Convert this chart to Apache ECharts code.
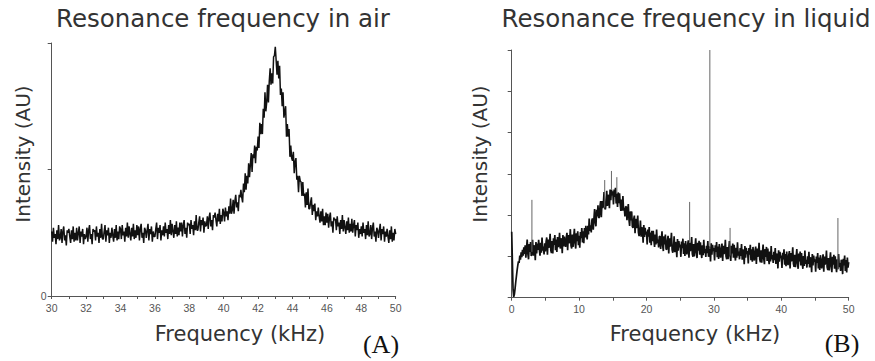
<!DOCTYPE html>
<html>
<head>
<meta charset="utf-8">
<script src="https://cdn.jsdelivr.net/npm/echarts@6/dist/echarts.min.js"></script>
<style>
  html, body { margin: 0; padding: 0; background: #fff; }
  #chart { width: 875px; height: 361px; }
</style>
</head>
<body>
<div id="chart"></div>
<script>
// Panel A: cantilever spectrum in air, 30–50 kHz sampled every 0.05 kHz (one row per kHz)
const airStart = 30, airStep = 0.05;
const airIntensity = [
  0.51,0.43,0.54,0.46,0.49,0.41,0.52,0.45,0.56,0.44, 0.46,0.53,0.42,0.51,0.55,0.44,0.48,0.40,0.52,0.50,
  0.53,0.47,0.42,0.52,0.45,0.55,0.43,0.50,0.44,0.54, 0.44,0.50,0.55,0.42,0.51,0.47,0.53,0.41,0.49,0.45,
  0.47,0.54,0.43,0.52,0.56,0.45,0.49,0.41,0.53,0.51, 0.52,0.44,0.55,0.47,0.50,0.42,0.53,0.46,0.57,0.45,
  0.45,0.51,0.56,0.43,0.52,0.48,0.54,0.42,0.50,0.46, 0.54,0.48,0.43,0.53,0.46,0.56,0.44,0.51,0.45,0.55,
  0.53,0.45,0.56,0.48,0.51,0.43,0.54,0.47,0.58,0.46, 0.55,0.49,0.44,0.54,0.47,0.57,0.45,0.52,0.46,0.56,
  0.48,0.55,0.44,0.53,0.57,0.46,0.50,0.42,0.54,0.52, 0.46,0.52,0.57,0.44,0.53,0.49,0.55,0.43,0.51,0.47,
  0.47,0.53,0.58,0.45,0.54,0.50,0.56,0.44,0.52,0.48, 0.55,0.47,0.58,0.50,0.53,0.45,0.56,0.49,0.60,0.48,
  0.57,0.51,0.46,0.56,0.49,0.59,0.47,0.54,0.48,0.58, 0.51,0.58,0.47,0.56,0.60,0.49,0.54,0.46,0.58,0.56,
  0.57,0.49,0.60,0.53,0.56,0.48,0.59,0.52,0.64,0.52, 0.52,0.58,0.63,0.51,0.60,0.56,0.62,0.50,0.59,0.55,
  0.56,0.63,0.53,0.62,0.66,0.55,0.60,0.52,0.64,0.62, 0.66,0.60,0.55,0.65,0.59,0.69,0.57,0.64,0.59,0.69,
  0.66,0.59,0.70,0.63,0.67,0.60,0.71,0.65,0.77,0.65, 0.68,0.76,0.65,0.75,0.80,0.70,0.74,0.67,0.80,0.78,
  0.84,0.78,0.74,0.89,0.82,0.97,0.84,0.95,0.89,1.05, 0.94,1.04,1.13,0.98,1.12,1.09,1.19,1.05,1.18,1.15,
  1.26,1.17,1.37,1.28,1.36,1.28,1.48,1.41,1.61,1.46, 1.53,1.67,1.53,1.70,1.80,1.67,1.76,1.68,1.89,1.90,
  1.97,1.86,1.75,1.86,1.72,1.82,1.59,1.64,1.50,1.61, 1.41,1.46,1.50,1.26,1.36,1.26,1.32,1.10,1.19,1.09,
  1.07,1.14,0.97,1.06,1.09,0.92,0.95,0.82,0.95,0.91, 0.90,0.79,0.90,0.79,0.81,0.70,0.82,0.72,0.85,0.69,
  0.69,0.74,0.78,0.64,0.72,0.67,0.73,0.60,0.67,0.63, 0.70,0.63,0.58,0.67,0.59,0.69,0.56,0.63,0.56,0.66,
  0.58,0.65,0.54,0.62,0.66,0.55,0.59,0.50,0.62,0.60, 0.61,0.52,0.63,0.55,0.58,0.49,0.60,0.53,0.64,0.51,
  0.60,0.54,0.49,0.59,0.52,0.62,0.50,0.57,0.51,0.61, 0.50,0.56,0.60,0.47,0.56,0.52,0.58,0.46,0.53,0.49,
  0.55,0.47,0.58,0.50,0.53,0.45,0.56,0.48,0.59,0.47, 0.49,0.56,0.45,0.54,0.58,0.47,0.51,0.43,0.54,0.52,
  0.46,0.52,0.57,0.44,0.53,0.49,0.55,0.43,0.51,0.47, 0.53,0.47,0.42,0.52,0.45,0.55,0.43,0.50,0.44,0.53,
  0.49
];

// Panel B: spectrum in liquid, 0–50 kHz sampled every 0.1 kHz (one row per kHz)
const liquidStart = 0, liquidStep = 0.1;
const liquidIntensity = [
  1.60,0.90,0.20,0.02,0.08,0.22,0.38,0.52,0.66,0.78,
  0.88,0.84,1.02,0.92,1.10,0.98,1.16,1.02,1.22,1.06,
  1.27,0.97,1.20,1.41,1.06,0.93,1.30,1.11,1.35,1.01,
  1.11,1.40,1.02,1.27,1.21,0.91,1.35,1.07,1.31,1.16,
  1.40,1.17,1.02,1.33,1.09,1.46,1.14,1.24,1.05,1.32,
  1.12,1.35,1.46,1.04,1.41,1.21,1.28,1.55,1.15,1.08,
  1.37,1.07,1.44,1.28,1.52,1.15,1.41,1.11,1.47,1.23,
  1.28,1.57,1.19,1.44,1.38,1.08,1.52,1.24,1.48,1.33,
  1.23,1.46,1.57,1.15,1.52,1.32,1.39,1.66,1.26,1.19,
  1.53,1.23,1.46,1.67,1.32,1.19,1.56,1.37,1.61,1.27,
  1.50,1.21,1.59,1.44,1.69,1.34,1.61,1.32,1.69,1.46,
  1.74,1.53,1.41,1.74,1.53,1.92,1.62,1.75,1.58,1.88,
  1.92,1.65,1.91,2.15,1.83,1.73,2.13,1.97,2.24,1.93,
  1.95,2.21,2.34,1.95,2.34,2.17,2.26,2.56,2.18,2.14,
  2.28,2.59,2.22,2.49,2.45,2.17,2.62,2.36,2.62,2.48,
  2.58,2.26,2.62,2.44,2.66,2.28,2.52,2.20,2.55,2.29,
  2.53,2.27,2.10,2.38,2.11,2.46,2.11,2.18,1.97,2.21,
  2.20,1.88,2.08,2.27,1.89,1.74,2.09,1.87,2.09,1.72,
  1.69,1.90,1.99,1.56,1.91,1.69,1.74,1.99,1.58,1.49,
  1.59,1.87,1.48,1.71,1.64,1.33,1.76,1.47,1.69,1.53,
  1.60,1.29,1.65,1.48,1.71,1.33,1.58,1.27,1.62,1.37,
  1.62,1.38,1.23,1.53,1.29,1.65,1.32,1.41,1.22,1.48,
  1.49,1.18,1.41,1.61,1.26,1.13,1.49,1.29,1.53,1.18,
  1.16,1.39,1.50,1.07,1.44,1.24,1.30,1.57,1.16,1.09,
  1.20,1.49,1.10,1.35,1.29,0.98,1.42,1.14,1.37,1.22,
  1.29,0.99,1.36,1.20,1.43,1.06,1.32,1.01,1.37,1.13,
  1.05,1.28,1.39,0.97,1.33,1.13,1.20,1.47,1.06,0.99,
  1.30,1.00,1.23,1.44,1.09,0.96,1.33,1.14,1.38,1.04,
  1.34,1.11,0.96,1.27,1.03,1.40,1.08,1.18,0.99,1.26,
  1.08,1.37,0.99,1.24,1.18,0.88,1.32,1.04,1.28,1.13,
  1.20,0.90,1.27,1.11,1.35,0.98,1.24,0.94,1.30,1.06,
  0.97,1.20,1.31,0.89,1.26,1.06,1.13,1.40,1.00,0.93,
  1.23,0.93,1.16,1.37,1.02,0.89,1.26,1.07,1.31,0.97,
  1.28,1.05,0.90,1.21,0.97,1.34,1.02,1.12,0.93,1.20,
  1.01,1.30,0.92,1.17,1.11,0.81,1.25,0.97,1.21,1.06,
  1.13,0.83,1.20,1.04,1.28,0.91,1.17,0.87,1.23,0.99,
  0.90,1.13,1.24,0.82,1.19,0.99,1.06,1.33,0.93,0.86,
  1.15,0.85,1.08,1.29,0.94,0.81,1.18,0.99,1.23,0.89,
  1.19,0.96,0.81,1.12,0.88,1.25,0.93,1.03,0.84,1.11,
  0.91,1.20,0.82,1.07,1.01,0.71,1.15,0.87,1.11,0.96,
  1.02,0.72,1.09,0.93,1.17,0.80,1.06,0.76,1.12,0.88,
  0.79,1.02,1.13,0.71,1.08,0.88,0.95,1.22,0.82,0.75,
  1.04,0.74,0.97,1.18,0.83,0.70,1.07,0.88,1.12,0.78,
  1.08,0.85,0.70,1.01,0.77,1.14,0.82,0.92,0.73,1.00,
  0.82,1.11,0.73,0.98,0.92,0.62,1.06,0.78,1.02,0.87,
  0.93,0.63,1.00,0.84,1.08,0.71,0.97,0.67,1.03,0.79,
  0.71,0.94,1.05,0.63,1.00,0.80,0.87,1.14,0.74,0.67,
  0.96,0.66,0.89,1.10,0.75,0.62,0.99,0.80,1.04,0.70,
  1.00,0.77,0.62,0.93,0.69,1.06,0.74,0.84,0.65,0.92,
  0.87,0.57,0.94,0.78,1.02,0.65,0.91,0.61,0.97,0.73,
  0.86
];

// Isolated narrow peaks in the liquid spectrum
const spikeFreq = [3.0, 13.8, 14.8, 15.6, 26.4, 29.4, 32.4, 48.4];
const spikeTop  = [2.37, 2.85, 3.07, 2.92, 2.32, 6.0, 1.69, 1.93];

// Axis ticks
const airTicks = { min: 30, max: 50, interval: 2 };
const liquidTicks = { min: 0, max: 50, interval: 10 };
const airYTicks = { min: 0, max: 2, interval: 1 };
const liquidYTicks = { min: 0, max: 6, interval: 1 };

const toPairs = (start, step, arr) =>
  arr.map((v, i) => [+(start + i * step).toFixed(2), v]);

const airData = toPairs(airStart, airStep, airIntensity);
const liquidData = toPairs(liquidStart, liquidStep, liquidIntensity);

// Each spike is a vertical segment from the trace up to its top value
const spikeData = [];
spikeFreq.forEach((f, k) => {
  const base = liquidIntensity[Math.round((f - liquidStart) / liquidStep)];
  spikeData.push([f, base], [f, spikeTop[k]], [f, '-']);
});

const SANS = '"DejaVu Sans", sans-serif';
const axisColor = '#555';

function xAxis(grid, t, minorSplit) {
  return {
    type: 'value', gridIndex: grid, min: t.min, max: t.max, interval: t.interval,
    axisLine: { onZero: false, lineStyle: { color: axisColor, width: 1 } },
    axisTick: { length: 3, lineStyle: { color: axisColor } },
    minorTick: { show: true, splitNumber: minorSplit, length: 3, lineStyle: { color: axisColor } },
    axisLabel: { color: '#555', fontSize: 10.5, fontFamily: '"Liberation Sans", sans-serif', margin: 6 },
    splitLine: { show: false }
  };
}
function yAxis(grid, t, showZero) {
  return {
    type: 'value', gridIndex: grid, min: t.min, max: t.max, interval: t.interval,
    axisLine: { show: true, onZero: false, lineStyle: { color: axisColor, width: 1 } },
    axisTick: { show: true, length: 4, lineStyle: { color: axisColor } },
    axisLabel: {
      show: true, color: '#555', fontSize: 10.5, margin: 5,
      fontFamily: '"Liberation Sans", sans-serif',
      formatter: v => (showZero && v === 0 ? '0' : '')
    },
    splitLine: { show: false }
  };
}

const textFont = (size) => ({ fontSize: size, fontFamily: SANS, fill: '#333' });

const chart = echarts.init(document.getElementById('chart'), null, { renderer: 'svg' });
chart.setOption({
  animation: false,
  backgroundColor: '#fff',
  grid: [
    { left: 51.7, top: 43, width: 344, height: 253 },
    { left: 511.7, top: 50, width: 337, height: 247.7 }
  ],
  xAxis: [xAxis(0, airTicks, 2), xAxis(1, liquidTicks, 2)],
  yAxis: [yAxis(0, airYTicks, true), yAxis(1, liquidYTicks, false)],
  series: [
    {
      type: 'line', xAxisIndex: 0, yAxisIndex: 0, data: airData,
      showSymbol: false,
      lineStyle: { color: '#111', width: 1.5, join: 'bevel' }
    },
    {
      type: 'line', xAxisIndex: 1, yAxisIndex: 1, data: liquidData,
      showSymbol: false,
      lineStyle: { color: '#111', width: 1.7, join: 'bevel' }
    },
    {
      type: 'line', xAxisIndex: 1, yAxisIndex: 1, data: spikeData,
      showSymbol: false, connectNulls: false,
      lineStyle: { color: '#666', width: 1 }
    }
  ],
  graphic: [
    { type: 'text', x: 223, y: 18, style: Object.assign({ text: 'Resonance frequency in air', align: 'center', verticalAlign: 'middle' }, textFont(24.5)) },
    { type: 'text', x: 686, y: 18, style: Object.assign({ text: 'Resonance frequency in liquid', align: 'center', verticalAlign: 'middle' }, textFont(24.5)) },
    { type: 'text', x: 240, y: 334, style: Object.assign({ text: 'Frequency (kHz)', align: 'center', verticalAlign: 'middle' }, textFont(21)) },
    { type: 'text', x: 695, y: 334, style: Object.assign({ text: 'Frequency (kHz)', align: 'center', verticalAlign: 'middle' }, textFont(21)) },
    { type: 'text', x: 23, y: 154, rotation: Math.PI / 2, style: Object.assign({ text: 'Intensity (AU)', align: 'center', verticalAlign: 'middle' }, textFont(20)) },
    { type: 'text', x: 480, y: 154, rotation: Math.PI / 2, style: Object.assign({ text: 'Intensity (AU)', align: 'center', verticalAlign: 'middle' }, textFont(20)) },
    { type: 'text', x: 381, y: 344, style: { text: '(A)', align: 'center', verticalAlign: 'middle', fontSize: 26, fontFamily: '"Liberation Serif", serif', fill: '#111' } },
    { type: 'text', x: 842, y: 343, style: { text: '(B)', align: 'center', verticalAlign: 'middle', fontSize: 26, fontFamily: '"Liberation Serif", serif', fill: '#111' } }
  ]
});
</script>
</body>
</html>
